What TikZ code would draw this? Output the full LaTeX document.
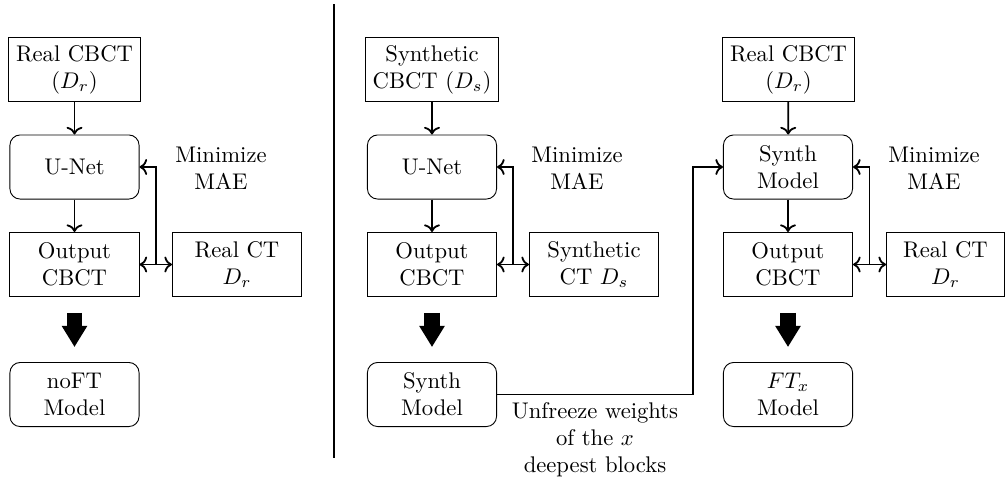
\documentclass[tikz,border=0pt]{standalone}
\usetikzlibrary{arrows.meta,calc}
\begin{document}
\begin{tikzpicture}[x=0.4415pt,y=-0.4415pt,
  sqbox/.style={draw,line width=0.4pt,minimum width=57pt,minimum height=28.3pt,align=center,inner sep=3.33pt},
  rbox/.style={sqbox,rounded corners=4.5pt},
  conn/.style={thick,->},
  biconn/.style={thick,<->},
  bigarrow/.style={line width=7pt,-{Triangle[length=9.3pt,width=10.6pt]}},
  lbl/.style={align=center,inner sep=0pt}]
\useasboundingbox (0,0) rectangle (1006,483);
% left column
\node[sqbox] (in1) at (74.5,69.5) {Real CBCT\\$(D_r)$};
\node[rbox] (net1) at (74.5,167) {U-Net};
\node[sqbox] (out1) at (74.5,264.5) {Output\\CBCT};
\node[sqbox] (ct1) at (237,264.5) {Real CT\\$D_r$};
\node[rbox] (mod1) at (74.5,394.5) {noFT\\Model};
\node[lbl] (mae1) at (221,168) {Minimize\\MAE};
\draw[conn] (in1) -- (net1);
\draw[conn] (net1) -- (out1);
\draw[biconn] (out1.east) -- (ct1.west);
\draw[conn] ($(out1.east)!0.5!(ct1.west)$) |- (net1.east);
\draw[bigarrow] ([yshift=-7pt]out1.south) -- ([yshift=6.6pt]mod1.north);
% separator
\coordinate (sepT) at (334,4);
\coordinate (sepB) at (334,458);
\draw[thick] (sepT) -- (sepB);
% middle column
\node[sqbox] (in2) at (432,69.5) {Synthetic\\CBCT $(D_s)$};
\node[rbox] (net2) at (432,167) {U-Net};
\node[sqbox] (out2) at (432,264.5) {Output\\CBCT};
\node[sqbox] (ct2) at (594,264.5) {Synthetic\\CT $D_s$};
\node[rbox] (mod2) at (432,394.5) {Synth\\Model};
\node[lbl] (mae2) at (577,168) {Minimize\\MAE};
\draw[conn] (in2) -- (net2);
\draw[conn] (net2) -- (out2);
\draw[biconn] (out2.east) -- (ct2.west);
\draw[conn] ($(out2.east)!0.5!(ct2.west)$) |- (net2.east);
\draw[bigarrow] ([yshift=-7pt]out2.south) -- ([yshift=6.6pt]mod2.north);
% right column
\node[sqbox] (in3) at (788.5,69.5) {Real CBCT\\$(D_r)$};
\node[rbox] (net3) at (788,167) {Synth\\Model};
\node[sqbox] (out3) at (788,264.5) {Output\\CBCT};
\node[sqbox,minimum width=52.1pt] (ct3) at (945.5,264.5) {Real CT\\$D_r$};
\node[rbox] (mod3) at (788,394.5) {$FT_x$\\Model};
\node[lbl] (mae3) at (934,168) {Minimize\\MAE};
\draw[conn] (in3) -- (net3);
\draw[conn] (net3) -- (out3);
\draw[biconn] (out3.east) -- (ct3.west);
\draw[conn] ($(out3.east)!0.5!(ct3.west)$) |- (net3.east);
\draw[bigarrow] ([yshift=-7pt]out3.south) -- ([yshift=6.6pt]mod3.north);
% transfer connector
\coordinate (bend) at (693,394.5);
\draw[conn] (mod2.east) -- node[below=3pt,lbl] (unf) {Unfreeze weights\\of the $x$\\deepest blocks} (bend) |- (net3.west);
\end{tikzpicture}
\end{document}
